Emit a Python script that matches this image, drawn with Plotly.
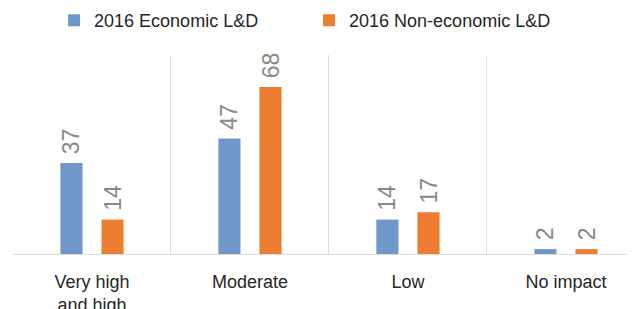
import plotly.graph_objects as go

categories = ["Very high<br>and high", "Moderate", "Low", "No impact"]
economic = [37, 47, 14, 2]
non_economic = [14, 68, 17, 2]
series_names = ["2016 Economic L&D", "2016 Non-economic L&D"]

blue = "#6F97C9"
orange = "#ED7D31"
label_color = "#8E8882"
grid_color = "#E2DDD8"
PAD = "\u2005"  # small gap between bar top and its rotated value label

fig = go.Figure()
fig.add_trace(go.Bar(
    x=categories, y=economic, name=series_names[0],
    marker=dict(color=blue, line=dict(width=0)),
    width=0.14, offset=-0.2,
    text=[PAD + str(v) for v in economic], textposition="outside", textangle=-90,
    textfont=dict(size=23, color=label_color, family="Arial"),
    constraintext="none", cliponaxis=False,
))
fig.add_trace(go.Bar(
    x=categories, y=non_economic, name=series_names[1],
    marker=dict(color=orange, line=dict(width=0)),
    width=0.14, offset=0.06,
    text=[PAD + str(v) for v in non_economic], textposition="outside", textangle=-90,
    textfont=dict(size=23, color=label_color, family="Arial"),
    constraintext="none", cliponaxis=False,
))

# page body has an 8px margin, so the figure is sized to fill the rest
fig.update_layout(
    width=627, height=301,
    margin=dict(l=5, r=0, t=47, b=55, autoexpand=False),
    plot_bgcolor="white", paper_bgcolor="white",
    barmode="group",
    font=dict(family="Arial", color="#262626", size=18),
    legend=dict(
        orientation="h", x=0.066, xanchor="left",
        y=1.266, yanchor="top", yref="paper",
        font=dict(size=18, color="#262626"),
        entrywidth=210, entrywidthmode="pixels",
        itemwidth=30,
    ),
    showlegend=True,
)
fig.update_xaxes(
    type="category", range=[-0.5, 3.437], automargin=False,
    tickson="boundaries", showgrid=True, gridcolor=grid_color, gridwidth=1,
    showline=True, linecolor=grid_color, linewidth=1,
    ticks="", ticklabelstandoff=11,
    tickfont=dict(size=18, color="#262626"),
    zeroline=False,
)
fig.update_yaxes(
    range=[0, 81], showgrid=False, showticklabels=False, zeroline=False,
    showline=False, automargin=False,
)

fig.write_html("out.html")
